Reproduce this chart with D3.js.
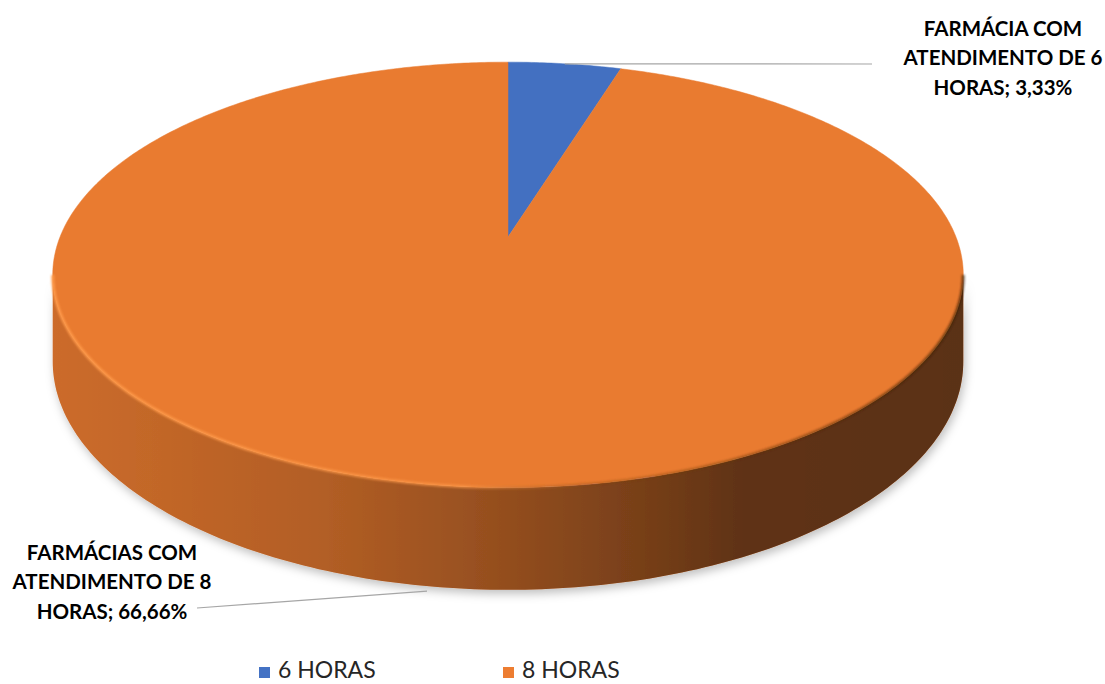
<!DOCTYPE html>
<html><head><meta charset="utf-8">
<script src="https://cdn.jsdelivr.net/npm/d3@7"></script>
<style>body{margin:0;background:#fff}svg{display:block}</style>
</head><body>
<svg id="c" width="1105" height="684"></svg>
<script>
// ---- data ----
const categories = ["6 HORAS", "8 HORAS"];
const values = [3.33, 66.66];
const labelLines = [
  ["FARMÁCIA COM", "ATENDIMENTO DE 6", "HORAS; 3,33%"],
  ["FARMÁCIAS COM", "ATENDIMENTO DE 8", "HORAS; 66,66%"]
];
const colors = ["#4472C4", "#ED7D31"];

// ---- geometry (perspective pie) ----
const cx = 508, cy = 237, Rx = 448, Ry = 206, k = 0.178, H = 84;
function proj(theta, h) {
  const X = Math.sin(theta), Z = -Math.cos(theta), w = 1 - k * Z;
  return [cx + Rx * X / w, cy + Ry * Z / w + h * H / w];
}
const svg = d3.select("#c");
const defs = svg.append("defs");
const color = d3.scaleOrdinal().domain(categories).range(colors);
const pie = d3.pie().sort(null).value(d => d.v);
const arcs = pie(categories.map((c, i) => ({c, v: values[i], lines: labelLines[i]})));

function arcPts(a0, a1, h, n) {
  const pts = [];
  const N = Math.max(2, Math.ceil(n * (a1 - a0) / (2 * Math.PI)));
  for (let i = 0; i <= N; i++) pts.push(proj(a0 + (a1 - a0) * i / N, h));
  return pts;
}
const line = d3.line();

// filters
const sh = defs.append("filter").attr("id", "shadow").attr("x", "-10%").attr("y", "-10%").attr("width", "120%").attr("height", "130%");
sh.append("feDropShadow").attr("dx", 2).attr("dy", 4).attr("stdDeviation", 5)
  .attr("flood-color", "#000").attr("flood-opacity", 0.25);
const bl = defs.append("filter").attr("id", "blur").attr("x", "-5%").attr("y", "-5%").attr("width", "110%").attr("height", "110%");
bl.append("feGaussianBlur").attr("stdDeviation", 1.3);

// side shade gradient
const xL = cx - Rx / Math.sqrt(1 - k * k), xR = cx + Rx / Math.sqrt(1 - k * k);
const shade = defs.append("linearGradient").attr("id", "shade").attr("gradientUnits", "userSpaceOnUse")
  .attr("x1", xL).attr("x2", xR).attr("y1", 0).attr("y2", 0);
[[0, 0.14], [0.3, 0.25], [0.5, 0.38], [0.65, 0.5], [0.76, 0.6], [1, 0.62]].forEach(([o, a]) =>
  shade.append("stop").attr("offset", o).attr("stop-color", "#000").attr("stop-opacity", a));
const rim = defs.append("linearGradient").attr("id", "rim").attr("gradientUnits", "userSpaceOnUse")
  .attr("x1", xL).attr("x2", xR).attr("y1", 0).attr("y2", 0);
[[0, "#FF9A4A", 0.95], [0.45, "#FF9A4A", 0.7], [0.6, "#7a3d12", 0.3], [1, "#3a1e08", 0.7]].forEach(([o, c, a]) =>
  rim.append("stop").attr("offset", o).attr("stop-color", c).attr("stop-opacity", a));

// ---- side (front visible range) ----
const fA0 = Math.acos(-k), fA1 = 2 * Math.PI - Math.acos(-k);
const sideG = svg.append("g").attr("filter", "url(#shadow)");
arcs.forEach(a => {
  const s = Math.max(a.startAngle, fA0), e = Math.min(a.endAngle, fA1);
  if (e <= s) return;
  const top = arcPts(s, e, 0, 400), bot = arcPts(s, e, 1, 400).reverse();
  const d = line(top.concat(bot)) + "Z";
  sideG.append("path").attr("d", d).attr("fill", color(a.data.c));
  sideG.append("path").attr("d", d).attr("fill", "url(#shade)");
});

// ---- top face ----
const topG = svg.append("g");
arcs.forEach(a => {
  const pts = [[cx, cy]].concat(arcPts(a.startAngle, a.endAngle, 0, 600));
  topG.append("path").attr("d", line(pts) + "Z").attr("fill", d3.color(color(a.data.c)).darker(0.05))
    .attr("stroke", d3.color(color(a.data.c)).darker(0.05)).attr("stroke-width", 0.5);
});
// rim highlight on the front edge
svg.append("path").attr("d", line(arcPts(fA0, fA1, 0, 400)))
  .attr("fill", "none").attr("stroke", "url(#rim)").attr("stroke-width", 3).attr("filter", "url(#blur)");

// ---- labels with leader lines ----
const labelFont = "Lato, 'Open Sans', sans-serif";
const labelPos = [{x: 1003, y: 36, ax: 872, ay: 64, h: 0}, {x: 112, y: 560, ax: 197, ay: 608, h: 1}];
arcs.forEach((a, i) => {
  const p = labelPos[i];
  const mid = (a.startAngle + a.endAngle) / 2;
  const anchor = proj(mid, p.h);
  svg.append("line").attr("x1", anchor[0]).attr("y1", anchor[1] + (p.h ? 5 : 0))
    .attr("x2", p.ax).attr("y2", p.ay).attr("stroke", "#A6A6A6").attr("stroke-width", 1.2);
  const t = svg.append("text").attr("text-anchor", "middle").attr("font-family", labelFont)
    .attr("font-weight", "bold").attr("font-size", 20.5).attr("fill", "#000");
  a.data.lines.forEach((l, j) => t.append("tspan").attr("x", p.x).attr("y", p.y + j * 29.3).text(l));
});

// ---- legend ----
const legX = d3.scaleOrdinal().domain(categories).range([259, 503]);
const leg = svg.append("g");
categories.forEach(c => {
  const g = leg.append("g").attr("transform", `translate(${legX(c)},0)`);
  g.append("rect").attr("x", 0).attr("y", 667).attr("width", 11).attr("height", 11).attr("fill", color(c));
  g.append("text").attr("x", 19).attr("y", 678).attr("font-family", labelFont).attr("font-size", 23)
    .attr("fill", "#262626").text(c);
});
</script>
</body></html>
